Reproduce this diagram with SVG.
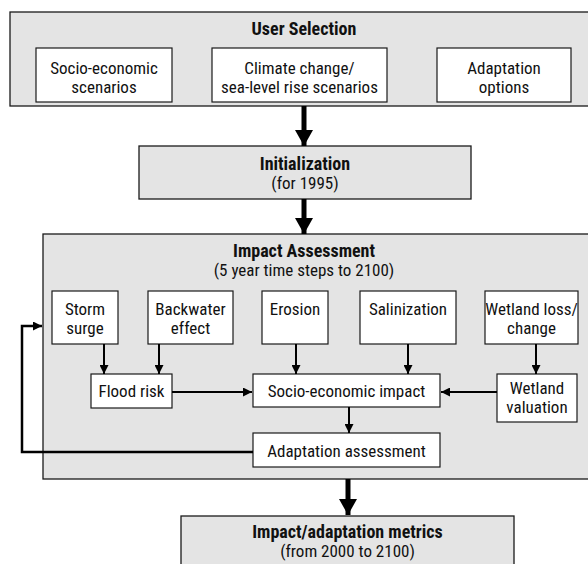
<svg xmlns="http://www.w3.org/2000/svg" width="588" height="564" viewBox="0 0 588 564">
<defs>
<style>
.big{fill:#e4e4e4;stroke:#1a1a1a;stroke-width:1.3}
.box{fill:#ffffff;stroke:#1a1a1a;stroke-width:1.2}
text{font-family:"Roboto Condensed","Liberation Sans",Arial,sans-serif;font-size:17px;fill:#111;text-anchor:middle}
.b{font-weight:bold;font-size:18px}
.thin{fill:none;stroke:#000;stroke-width:2}
.thick{fill:none;stroke:#000;stroke-width:5}
</style>
<marker id="ah" viewBox="0 0 10 10" refX="10" refY="5" markerWidth="9" markerHeight="9" markerUnits="userSpaceOnUse" orient="auto">
<path d="M0,0 L10,5 L0,10 z" fill="#000"/>
</marker>
<marker id="bh" viewBox="0 0 16 18" refX="16" refY="9" markerWidth="16" markerHeight="18" markerUnits="userSpaceOnUse" orient="auto">
<path d="M0,0 L16,9 L0,18 z" fill="#000"/>
</marker>
</defs>

<g id="user-selection">
<rect class="big" x="10" y="12" width="590" height="94"/>
<text class="b" x="304" y="35">User Selection</text>
</g>
<g id="socio-scenarios">
<rect class="box" x="36" y="48" width="136" height="54"/>
<text x="104" y="74">Socio-economic</text>
<text x="104" y="93">scenarios</text>
</g>
<g id="climate-scenarios">
<rect class="box" x="212" y="48" width="175" height="54"/>
<text x="299.5" y="74">Climate change/</text>
<text x="299.5" y="93">sea-level rise scenarios</text>
</g>
<g id="adaptation-options">
<rect class="box" x="437" y="48" width="134" height="54"/>
<text x="504" y="74">Adaptation</text>
<text x="504" y="93">options</text>
</g>

<g id="initialization">
<rect class="big" x="139" y="146" width="332" height="53"/>
<text class="b" x="305" y="170">Initialization</text>
<text x="305" y="189">(for 1995)</text>
</g>

<g id="impact-assessment">
<rect class="big" x="43" y="234" width="560" height="245"/>
<text class="b" x="304" y="257">Impact Assessment</text>
<text x="304" y="276">(5 year time steps to 2100)</text>
</g>
<g id="storm-surge">
<rect class="box" x="52" y="291" width="66" height="53"/>
<text x="85" y="315">Storm</text>
<text x="85" y="334">surge</text>
</g>
<g id="backwater">
<rect class="box" x="148" y="291" width="85" height="53"/>
<text x="190.5" y="315">Backwater</text>
<text x="190.5" y="334">effect</text>
</g>
<g id="erosion">
<rect class="box" x="262" y="291" width="66" height="53"/>
<text x="295" y="315">Erosion</text>
</g>
<g id="salinization">
<rect class="box" x="360" y="291" width="96" height="53"/>
<text x="408" y="315">Salinization</text>
</g>
<g id="wetland-loss">
<rect class="box" x="485" y="291" width="93" height="53"/>
<text x="531.5" y="315">Wetland loss/</text>
<text x="531.5" y="334">change</text>
</g>
<g id="flood-risk">
<rect class="box" x="91" y="374" width="81" height="34"/>
<text x="131.5" y="397">Flood risk</text>
</g>
<g id="socio-impact">
<rect class="box" x="253" y="374" width="187" height="33"/>
<text x="346.5" y="397">Socio-economic impact</text>
</g>
<g id="wetland-valuation">
<rect class="box" x="497" y="374" width="80" height="48"/>
<text x="537" y="394">Wetland</text>
<text x="537" y="413">valuation</text>
</g>
<g id="adaptation-assessment">
<rect class="box" x="253" y="433" width="187" height="34"/>
<text x="346.5" y="457">Adaptation assessment</text>
</g>

<g id="metrics">
<rect class="big" x="181" y="516" width="333" height="60"/>
<text class="b" x="347.5" y="538">Impact/adaptation metrics</text>
<text x="347.5" y="557">(from 2000 to 2100)</text>
</g>

<g id="connectors">
<line class="thick" x1="304" y1="106" x2="304" y2="146" marker-end="url(#bh)"/>
<line class="thick" x1="304" y1="199" x2="304" y2="234" marker-end="url(#bh)"/>
<line class="thick" x1="348" y1="479" x2="348" y2="515" marker-end="url(#bh)"/>
<line class="thin" x1="104" y1="344" x2="104" y2="374" marker-end="url(#ah)"/>
<line class="thin" x1="159" y1="344" x2="159" y2="374" marker-end="url(#ah)"/>
<line class="thin" x1="296" y1="344" x2="296" y2="374" marker-end="url(#ah)"/>
<line class="thin" x1="408" y1="344" x2="408" y2="374" marker-end="url(#ah)"/>
<line class="thin" x1="536" y1="344" x2="536" y2="374" marker-end="url(#ah)"/>
<line class="thin" x1="172" y1="392" x2="252" y2="392" marker-end="url(#ah)"/>
<line class="thin" x1="497" y1="392" x2="441" y2="392" marker-end="url(#ah)"/>
<line class="thin" x1="349" y1="407" x2="349" y2="433" marker-end="url(#ah)"/>
<polyline class="thin" style="stroke-width:2.5" points="253,452 22,452 22,326 42,326" marker-end="url(#ah)"/>
</g>
</svg>
